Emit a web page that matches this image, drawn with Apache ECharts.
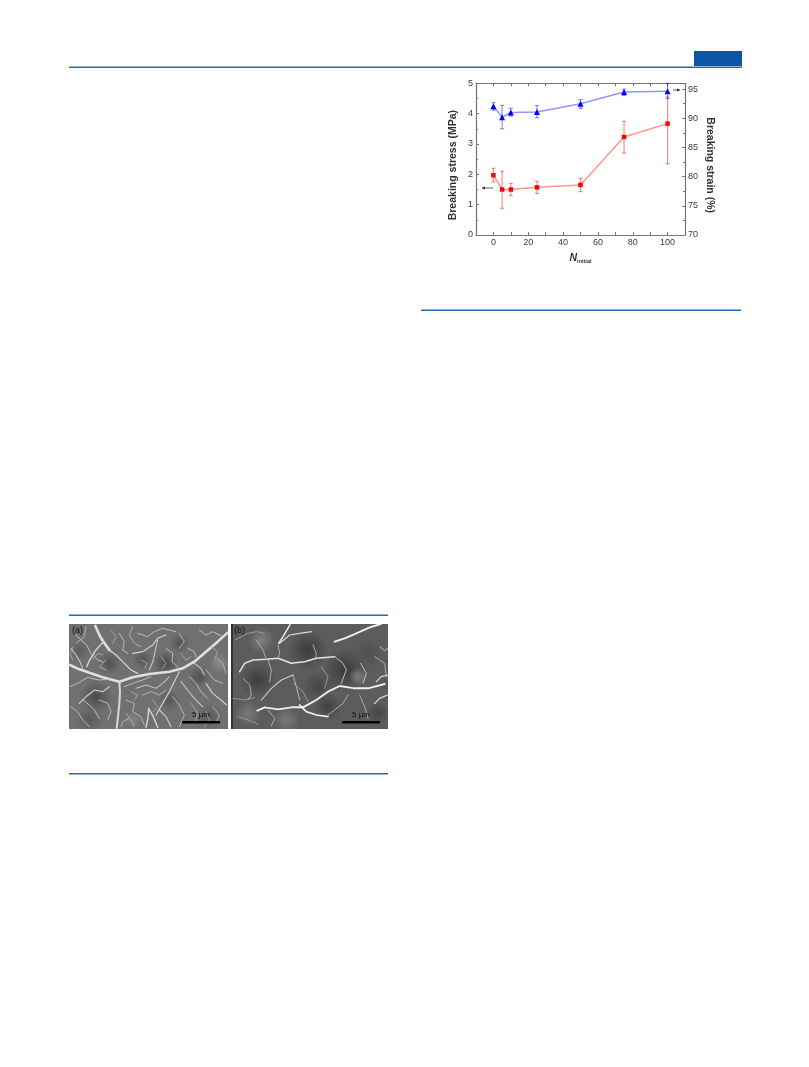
<!DOCTYPE html>
<html><head><meta charset="utf-8">
<style>html,body{margin:0;padding:0;background:#fff}#c{width:809px;height:1067px;filter:blur(0.6px)}</style>
<script src="https://cdn.jsdelivr.net/npm/echarts@6/dist/echarts.min.js"></script>
</head><body><div id="c"></div>
<script>
const nInitial=[0,5,10,25,50,75,100];
const xTickLabels=[0,20,40,60,80,100];
const xTicks=[-10,0,10,20,30,40,50,60,70,80,90,100,110];
const stress=[1.97,1.5,1.5,1.57,1.65,3.23,3.67];
const stressLow=[1.75,0.88,1.3,1.37,1.43,2.7,2.35];
const stressHigh=[2.2,2.1,1.7,1.77,1.87,3.75,4.55];
const strain=[92.05,90.2,91,91.1,92.5,94.5,94.65];
const strainLow=[91.4,88.2,90.4,90.1,91.7,93.9,93.4];
const strainHigh=[92.7,92.2,91.7,92.2,93.2,95,96];

// SEM micrographs, sketched as decoration: [width, grey, x,y, x,y, ...] in panel-crop pixels (3x)
const semA=[
[3.2,'#e0e0e0',12,135,40,148,75,160,110,172,160,185,200,172,250,162,310,155,350,145,385,125,420,95,455,65,485,38],
[2.6,'#d6d6d6',160,185,162,215,160,250,156,290,152,324],
[3.4,'#dcdcdc',88,18,100,45,112,65,130,90],
[1.6,'#d6d6d6',130,90,150,105,170,125,195,150,215,160],
[1.8,'#d0d0d0',112,65,90,90,72,118,62,140],
[1.3,'#c8c8c8',15,85,30,105,42,125,50,145],
[1.2,'#c0c0c0',30,45,45,60,62,75,75,100,95,120,110,125],
[1.2,'#c0c0c0',160,40,175,65,170,90,185,100],
[1.4,'#d0d0d0',200,100,230,95,260,75,275,55,300,45],
[1.3,'#c8c8c8',275,60,268,90,262,120,250,150],
[1.2,'#c0c0c0',215,40,245,50,265,35,290,25,330,35],
[1.2,'#c0c0c0',300,85,320,100,318,125,335,140],
[1.2,'#c0c0c0',365,85,385,95,390,110],
[1.2,'#b4b4b4',340,40,355,65,340,85],
[1.2,'#c0c0c0',400,30,420,45,440,35,470,50],
[1.2,'#b4b4b4',450,110,470,130,480,160],
[1.4,'#c8c8c8',385,130,405,145,415,165],
[1.5,'#d0d0d0',340,155,325,185,310,215,290,250,270,285],
[1.2,'#c0c0c0',175,200,200,190,230,180,255,170],
[1.3,'#c0c0c0',210,205,240,195,270,205,290,190,310,170],
[1.2,'#b8b8b8',230,225,255,215,280,225,300,210],
[1.2,'#b8b8b8',180,240,205,250,200,275,225,290,235,315],
[1.4,'#c8c8c8',345,185,365,210,385,235,410,260],
[1.2,'#c0c0c0',370,170,390,190,405,215,425,235],
[1.4,'#d0d0d0',420,190,440,220,465,240,482,255],
[1.2,'#b8b8b8',420,150,445,180,470,190],
[1.2,'#b8b8b8',320,230,340,255,355,285,340,320],
[1.8,'#d6d6d6',240,322,246,295,248,265,262,290,275,322],
[1.4,'#c8c8c8',280,270,300,290,315,320],
[1.2,'#c0c0c0',12,200,35,190,65,172,100,180,130,178],
[1.5,'#c8c8c8',40,250,60,230,85,210,110,215,130,200],
[1.2,'#c0c0c0',50,240,70,255,85,270,100,295],
[1.2,'#b8b8b8',15,260,35,275,50,300,70,320],
[1.2,'#b8b8b8',100,240,125,250,135,275,125,300],
[1.2,'#b4b4b4',190,295,170,305,165,320],
[1.1,'#b8b8b8',60,20,55,50,30,70],
[1.1,'#b8b8b8',200,20,190,45,205,70,225,80],
[1.1,'#b4b4b4',120,120,100,140,120,150],
[1.1,'#b4b4b4',440,260,460,285,450,310],
[1,'#b0b0b0',135,30,150,50,140,70],
[1,'#b0b0b0',225,120,245,130,235,145],
[1,'#b0b0b0',285,110,300,130,290,145],
[1,'#b0b0b0',345,100,360,120,375,110],
[1,'#b0b0b0',435,80,455,95,445,120],
[1,'#b0b0b0',20,120,12,100,22,80],
[1,'#b0b0b0',195,215,215,225,205,240],
[1,'#b0b0b0',260,240,275,260,262,275],
[1,'#b0b0b0',375,250,395,280,385,310],
[1,'#b0b0b0',420,275,430,300,415,320],
[1,'#b0b0b0',180,280,195,300,205,320],
[1,'#b0b0b0',80,120,95,100,110,105]];
const semB=[
[2.4,'#eeeeee',88,272,110,262,150,268,190,262,225,262,265,240,300,215,335,198,380,205,420,205,470,192],
[2.2,'#f0f0f0',215,255,235,275,265,285,300,290],
[2.4,'#f0f0f0',320,65,350,55,385,40,425,22,458,12],
[1.9,'#e4e4e4',35,155,50,130,75,120,115,118,150,115,190,130,230,125,265,115,320,110],
[1.9,'#e8e8e8',152,70,165,50,178,28,186,14],
[1.5,'#d8d8d8',155,70,185,45,215,40,250,35],
[1.3,'#d0d0d0',100,240,130,205,160,180,195,165],
[1.1,'#c0c0c0',195,165,205,200,215,240],
[1.1,'#b8b8b8',45,175,65,195,70,225,60,240],
[1.1,'#b8b8b8',120,120,130,150,125,185],
[1.1,'#b4b4b4',85,60,105,90,115,118],
[1.1,'#b4b4b4',150,75,155,100,150,115],
[1.2,'#c0c0c0',320,110,345,130,355,150,340,190],
[1.1,'#b4b4b4',255,75,265,100,262,118],
[1.2,'#c0c0c0',398,130,415,160,405,190],
[1.1,'#b4b4b4',440,110,470,130,475,170],
[1.6,'#d8d8d8',445,185,460,170,480,165],
[1.6,'#dcdcdc',440,250,455,235,478,225],
[1.1,'#b8b8b8',360,225,345,250,300,285],
[1.1,'#b4b4b4',395,225,410,260,420,295],
[1.2,'#c0c0c0',455,80,470,92,480,85],
[1,'#a4a4a4',20,60,40,50,60,40,85,35,110,40],
[1,'#a4a4a4',195,190,225,215,240,245],
[1,'#a4a4a4',280,140,300,170,290,205],
[1,'#a4a4a4',15,235,50,240,80,232],
[1,'#a4a4a4',30,290,60,300,90,312],
[1.1,'#b8b8b8',120,270,140,295,130,318]];
// soft light and dark patches: [x, y, radius, grey] in panel-crop pixels
const semShadeA=[[90,230,50,'#4c4c4c'],[300,130,38,'#4a4a4a'],[130,130,35,'#505050'],[230,120,30,'#555555'],[400,170,34,'#505050'],[460,130,30,'#8a8a8a'],[70,300,40,'#585858'],[310,240,32,'#555555'],[430,290,40,'#5a5a5a'],[200,300,26,'#858585'],[40,90,30,'#5c5c5c'],[340,70,30,'#555555']];
const semShadeB=[[240,90,60,'#3c3c3c'],[350,150,65,'#3a3a3a'],[270,200,45,'#444444'],[90,180,55,'#3e3e3e'],[300,260,42,'#404040'],[60,280,40,'#7a7a7a'],[100,60,40,'#808080'],[420,100,45,'#505050'],[175,300,40,'#7a7a7a'],[450,280,35,'#444444'],[390,170,28,'#7d7d7d']];

const F='"Liberation Sans",Arial,sans-serif';
const RED='#ff0000',BLUE='#0000ff',AX='#757575';
const A=[66,620],B=[228,620];
function rule(x1,x2,y,w){return {type:'rect',shape:{x:x1,y:y,width:x2-x1,height:w||1.6},style:{fill:'#1f6ab4'},silent:true};}
function strokes(list,o){return list.map(s=>{const pts=[];for(let i=2;i<s.length;i+=2)pts.push([o[0]+s[i]/3,o[1]+s[i+1]/3]);
  return {type:'polyline',shape:{points:pts},style:{stroke:s[1],lineWidth:s[0]*0.8,fill:null,lineJoin:'round',lineCap:'round'},silent:true};});}
function shades(list,o,clipL,clipR){return list.map(s=>{
  const x=o[0]+s[0]/3,y=o[1]+s[1]/3,r=s[2]/3;
  const x0=Math.max(clipL,x-r),x1=Math.min(clipR,x+r),y0=Math.max(624,y-r),y1=Math.min(729,y+r);
  const g=new echarts.graphic.RadialGradient(x,y,r,[{offset:0,color:s[3]},{offset:1,color:s[3]+'00'}],true);
  return {type:'rect',shape:{x:x0,y:y0,width:x1-x0,height:y1-y0},style:{fill:g},silent:true};});}
function txt(x,y,t,size,color,weight,align){return {type:'text',x:x,y:y,style:{text:t,fontSize:size,fontFamily:F,fill:color,fontWeight:weight||'normal',align:align||'left',verticalAlign:'middle'},silent:true};}
function arrow(x1,x2,y){const d=x2>x1?-3:3;return [
 {type:'line',shape:{x1:x1,y1:y,x2:x2,y2:y},style:{stroke:'#333',lineWidth:0.8},silent:true},
 {type:'polygon',shape:{points:[[x2,y],[x2+d,y-1.5],[x2+d,y+1.5]]},style:{fill:'#222'},silent:true}];}
const graphics=[
 {type:'rect',shape:{x:694,y:51,width:48,height:15},style:{fill:'#0a55a8'},silent:true},
 rule(69,742,66.6,1.4),rule(421,741,309.4),rule(69,388,614.4),rule(69,388,773),
 {type:'rect',shape:{x:69,y:624,width:159,height:105},style:{fill:'#707070'},silent:true},
 {type:'rect',shape:{x:231,y:624,width:157,height:105},style:{fill:'#5c5c5c'},silent:true},
 ...shades(semShadeA,A,69,228),...shades(semShadeB,B,231,388),
 {type:'rect',shape:{x:231,y:624,width:2,height:105},style:{fill:'#333'},silent:true},
 ...strokes(semA,A),...strokes(semB,B),
 {type:'rect',shape:{x:182,y:721,width:38,height:2.4},style:{fill:'#000'},silent:true},
 {type:'rect',shape:{x:342,y:721,width:38,height:2.4},style:{fill:'#000'},silent:true},
 txt(201,715,'5 µm',8,'#111','normal','center'),txt(361,715,'5 µm',8,'#111','normal','center'),
 txt(72,631,'(a)',9,'#111','normal'),txt(234,631,'(b)',9,'#111','normal'),
 ...arrow(493,482,188),...arrow(673,680,90)
];
function errSeries(name,low,high,color,axis){
 return {name:name,type:'custom',xAxisIndex:0,yAxisIndex:axis,z:2,clip:false,
  data:nInitial.map((n,i)=>[n,low[i],high[i]]),
  renderItem(p,api){
   const a=api.coord([api.value(0),api.value(1)]),b=api.coord([api.value(0),api.value(2)]);
   const st={stroke:color,lineWidth:1.2,opacity:0.45,fill:null};
   return {type:'group',children:[
    {type:'line',shape:{x1:a[0],y1:a[1],x2:b[0],y2:b[1]},style:st},
    {type:'line',shape:{x1:a[0]-2,y1:a[1],x2:a[0]+2,y2:a[1]},style:st},
    {type:'line',shape:{x1:b[0]-2,y1:b[1],x2:b[0]+2,y2:b[1]},style:st}]};
  }};
}
function lineSeries(name,vals,color,axis,sym,size){
 return {name:name,type:'line',xAxisIndex:0,yAxisIndex:axis,z:3,data:nInitial.map((n,i)=>[n,vals[i]]),
  symbol:sym,symbolSize:size,showSymbol:true,
  lineStyle:{color:color,width:1.5,opacity:0.42},itemStyle:{color:color}};
}
const axisLine={show:true,onZero:false,lineStyle:{color:AX,width:1.2}};
const tickStyle={color:AX,width:1};
const label={color:'#3a3a3a',fontSize:9,fontFamily:F,margin:3};
const xAxisBase={type:'value',min:-10,max:110,axisLine:axisLine,splitLine:{show:false},
  axisTick:{show:true,inside:true,length:3,lineStyle:tickStyle,customValues:xTicks},minorTick:{show:false}};
const chart=echarts.init(document.getElementById('c'),null,{renderer:'canvas'});
chart.setOption({
 animation:false,backgroundColor:'#fff',
 grid:{left:476,top:83.3,width:209,height:151.7,containLabel:false},
 graphic:graphics,
 xAxis:[
  {...xAxisBase,position:'bottom',
   axisLabel:{...label,customValues:xTickLabels},
   name:'{n|N}{s|initial}',nameLocation:'middle',nameGap:17,
   nameTextStyle:{rich:{n:{fontFamily:F,fontWeight:'bold',fontStyle:'italic',fontSize:10.5,color:'#333'},s:{fontFamily:F,fontWeight:'bold',fontSize:5.5,color:'#333',padding:[6,0,0,0]}}}},
  {...xAxisBase,position:'top',axisLabel:{show:false}}
 ],
 yAxis:[
  {type:'value',min:0,max:5,interval:1,position:'left',axisLine:axisLine,splitLine:{show:false},
   axisTick:{show:true,inside:true,length:3,lineStyle:tickStyle},minorTick:{show:true,splitNumber:2,length:2,lineStyle:tickStyle},
   axisLabel:label,name:'Breaking stress (MPa)',nameLocation:'middle',nameGap:17,nameRotate:90,
   nameTextStyle:{fontFamily:F,fontWeight:'bold',fontSize:10.5,color:'#333',padding:[0,12,0,0]}},
  {type:'value',min:70,max:96,interval:5,position:'right',axisLine:axisLine,splitLine:{show:false},
   axisTick:{show:true,inside:true,length:3,lineStyle:tickStyle},minorTick:{show:true,splitNumber:2,length:2,lineStyle:tickStyle},
   axisLabel:{...label,showMaxLabel:false,formatter:v=>(v%5===0?String(v):'')},
   name:'Breaking strain (%)',nameLocation:'middle',nameGap:19,nameRotate:-90,
   nameTextStyle:{fontFamily:F,fontWeight:'bold',fontSize:10.5,color:'#333',padding:[0,0,0,12]}}
 ],
 series:[
  errSeries('Stress error',stressLow,stressHigh,RED,0),
  errSeries('Strain error',strainLow,strainHigh,BLUE,1),
  lineSeries('Breaking stress',stress,RED,0,'rect',4.5),
  lineSeries('Breaking strain',strain,BLUE,1,'triangle',6)
 ]
});
</script></body></html>
